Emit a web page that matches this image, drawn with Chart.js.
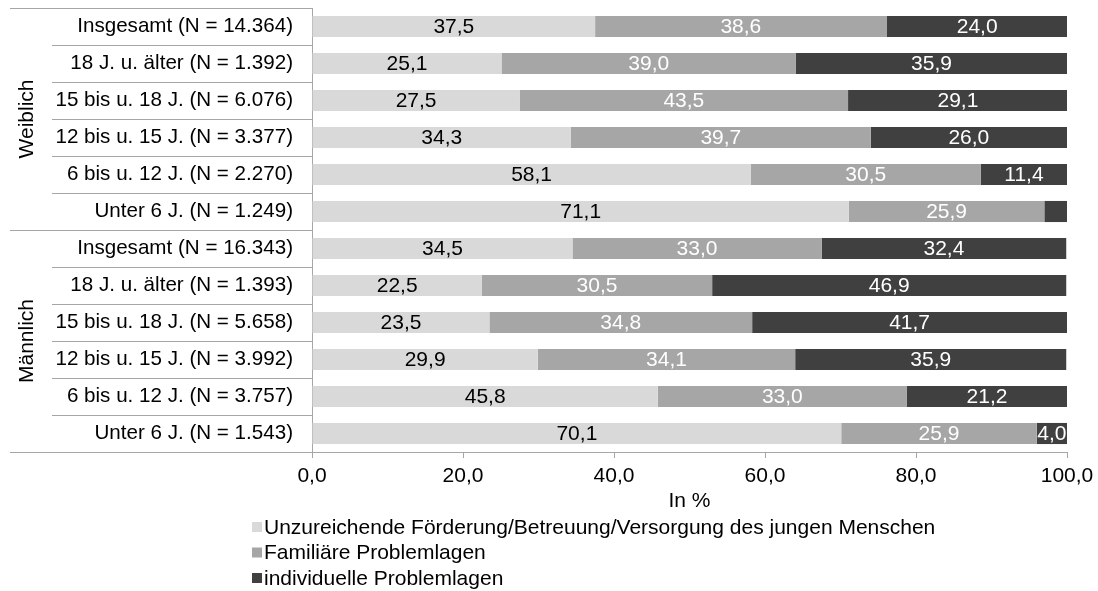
<!DOCTYPE html>
<html lang="de">
<head>
    <meta charset="UTF-8">
    <title>Gründe für die Hilfegewährung nach Geschlecht und Alter</title>
    <script src="https://cdn.jsdelivr.net/npm/chart.js"></script>
    <style>
        body {
            margin: 0;
            padding: 0;
            background-color: #fff;
        }
        #chart {
            display: block;
        }
    </style>
</head>
<body>
    <canvas id="chart" width="1098" height="591"></canvas>

    <script>
        // Categories (top to bottom)
        const categories = [
            'Insgesamt (N = 14.364)',
            '18 J. u. älter (N = 1.392)',
            '15 bis u. 18 J. (N = 6.076)',
            '12 bis u. 15 J. (N = 3.377)',
            '6 bis u. 12 J. (N = 2.270)',
            'Unter 6 J. (N = 1.249)',
            'Insgesamt (N = 16.343)',
            '18 J. u. älter (N = 1.393)',
            '15 bis u. 18 J. (N = 5.658)',
            '12 bis u. 15 J. (N = 3.992)',
            '6 bis u. 12 J. (N = 3.757)',
            'Unter 6 J. (N = 1.543)'
        ];
        const groups = ['Weiblich', 'Männlich'];
        const groupSize = 6;

        const seriesNames = [
            'Unzureichende Förderung/Betreuung/Versorgung des jungen Menschen',
            'Familiäre Problemlagen',
            'individuelle Problemlagen'
        ];
        const foerderung  = [37.5, 25.1, 27.5, 34.3, 58.1, 71.1, 34.5, 22.5, 23.5, 29.9, 45.8, 70.1];
        const familiaer   = [38.6, 39.0, 43.5, 39.7, 30.5, 25.9, 33.0, 30.5, 34.8, 34.1, 33.0, 25.9];
        const individuell = [24.0, 35.9, 29.1, 26.0, 11.4, 3.0, 32.4, 46.9, 41.7, 35.9, 21.2, 4.0];

        const xTicks = [0, 20, 40, 60, 80, 100];

        const colors = ['#d9d9d9', '#a6a6a6', '#404040'];
        const labelColors = ['#000000', '#ffffff', '#ffffff'];
        const FONT = "'Liberation Sans', Arial, sans-serif";
        const SIZE = 21;
        const fmt = v => v.toFixed(1).replace('.', ',');

        // value labels inside the bar segments
        const valueLabels = {
            id: 'valueLabels',
            afterDatasetsDraw(chart) {
                const ctx = chart.ctx;
                ctx.save();
                ctx.font = SIZE + 'px ' + FONT;
                ctx.textAlign = 'center';
                ctx.textBaseline = 'middle';
                chart.data.datasets.forEach((ds, i) => {
                    chart.getDatasetMeta(i).data.forEach((bar, j) => {
                        const v = ds.data[j];
                        if (v < 3.5) return;
                        ctx.fillStyle = labelColors[i];
                        ctx.fillText(fmt(v), (bar.x + bar.base) / 2, bar.y + 1);
                    });
                });
                ctx.restore();
            }
        };

        // divider lines, group labels and legend
        const frame = {
            id: 'frame',
            afterDraw(chart) {
                const ctx = chart.ctx;
                const y = chart.scales.y;
                const area = chart.chartArea;
                const step = y.getPixelForValue(1) - y.getPixelForValue(0);
                const edge = i => y.getPixelForValue(i) - step / 2;

                ctx.save();
                ctx.strokeStyle = '#a6a6a6';
                ctx.lineWidth = 1;
                for (let i = 0; i <= categories.length; i++) {
                    const py = Math.round(edge(i)) + 0.5;
                    const x0 = (i % groupSize === 0) ? 10 : 52;
                    ctx.beginPath();
                    ctx.moveTo(x0, py);
                    ctx.lineTo(area.left, py);
                    ctx.stroke();
                }

                ctx.fillStyle = '#000';
                ctx.font = SIZE + 'px ' + FONT;
                ctx.textAlign = 'center';
                ctx.textBaseline = 'middle';
                groups.forEach((g, k) => {
                    const cy = (edge(k * groupSize) + edge((k + 1) * groupSize)) / 2;
                    ctx.save();
                    ctx.translate(27, cy);
                    ctx.rotate(-Math.PI / 2);
                    ctx.fillText(g, 0, 0);
                    ctx.restore();
                });

                // legend
                ctx.textAlign = 'left';
                seriesNames.forEach((name, i) => {
                    const ly = 527 + i * 25.5;
                    ctx.fillStyle = colors[i];
                    ctx.fillRect(252, ly - 5, 10, 10);
                    ctx.fillStyle = '#000';
                    ctx.fillText(name, 264, ly + 1);
                });
                ctx.restore();
            }
        };

        new Chart(document.getElementById('chart'), {
            type: 'bar',
            data: {
                labels: categories,
                datasets: [foerderung, familiaer, individuell].map((d, i) => ({
                    label: seriesNames[i],
                    data: d,
                    backgroundColor: colors[i],
                    borderWidth: 0,
                    categoryPercentage: 1.0,
                    barPercentage: 0.57
                }))
            },
            options: {
                indexAxis: 'y',
                responsive: false,
                animation: false,
                layout: {
                    padding: { top: 8, right: 31, bottom: 77, left: 0 }
                },
                plugins: {
                    legend: { display: false },
                    tooltip: { enabled: false }
                },
                scales: {
                    x: {
                        stacked: true,
                        min: 0,
                        max: 100,
                        afterBuildTicks: s => { s.ticks = xTicks.map(v => ({ value: v })); },
                        afterFit: s => {
                            s.height = 62;
                            s.paddingLeft = 0;
                            s.paddingRight = 0;
                        },
                        grid: {
                            drawOnChartArea: false,
                            drawTicks: true,
                            tickLength: 6,
                            color: '#a6a6a6'
                        },
                        border: { display: true, color: '#a6a6a6' },
                        ticks: {
                            padding: 6,
                            color: '#000',
                            font: { family: FONT, size: SIZE },
                            maxRotation: 0,
                            callback: v => fmt(v)
                        },
                        title: {
                            display: true,
                            text: 'In %',
                            color: '#000',
                            font: { family: FONT, size: SIZE },
                            padding: { top: 4, bottom: 0 }
                        }
                    },
                    y: {
                        stacked: true,
                        afterFit: s => {
                            s.width = 312;
                            s.paddingTop = 0;
                            s.paddingBottom = 0;
                        },
                        grid: { display: false, drawTicks: false },
                        border: { display: true, color: '#a6a6a6' },
                        ticks: {
                            padding: 19,
                            color: '#000',
                            font: { family: FONT, size: 20.6 }
                        }
                    }
                }
            },
            plugins: [valueLabels, frame]
        });
    </script>
</body>
</html>
